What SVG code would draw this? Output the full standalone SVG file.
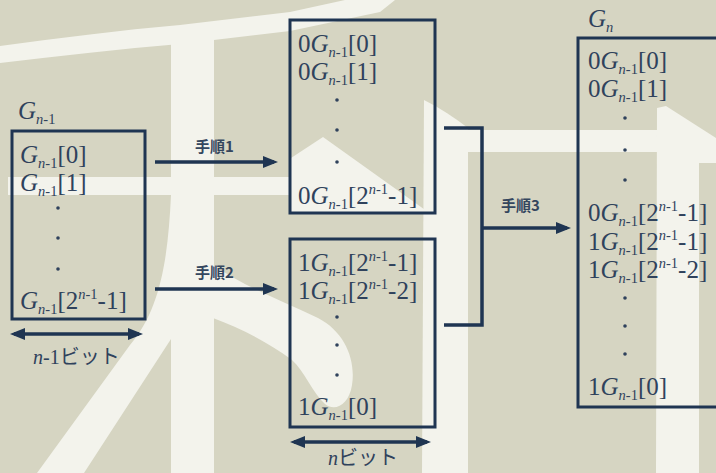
<svg xmlns="http://www.w3.org/2000/svg" width="716" height="473" viewBox="0 0 716 473">
<style>
.t{font-family:"Liberation Serif","DejaVu Serif",serif;font-size:25px;fill:#2f425c}
.i{font-style:italic}
.s{font-size:14.5px}
.k{font-family:"Noto Sans CJK JP",sans-serif;font-size:15px;font-weight:bold;fill:#34465e}
.b{font-family:"Noto Sans CJK JP",sans-serif;font-size:20px;fill:#2f425c}
.box{fill:none;stroke:#1f3552;stroke-width:3}
.ln{fill:none;stroke:#1f3552;stroke-width:3.5}
.w{fill:#f3f3ec}
.d{fill:#2f425c}
</style>
<defs>
<marker id="ah" markerUnits="userSpaceOnUse" markerWidth="16" markerHeight="12" refX="11" refY="6" orient="auto-start-reverse">
<path d="M0,0 L15,6 L0,12 Z" fill="#1f3552"/>
</marker>
</defs>
<rect width="716" height="473" fill="#d6d5c2"/>
<g id="background">
<path class="w" d="M0,46 C60,38 120,30 180,25 L290,12 L345,0 L395,0 L380,12 L290,31 L180,44 C120,49 60,56 0,63 Z"/>
<rect class="w" x="171" y="38" width="43" height="435"/>
<path class="w" d="M171,195 C168,260 160,310 130,345 L37,473 L84,473 L171,339 Z"/>
<rect class="w" x="8" y="177" width="283" height="18"/>
<path class="w" d="M213,265 C245,287 280,300 318,318 C345,332 356,360 352,385 C349,405 335,412 325,404 C312,392 305,372 292,360 C268,342 240,328 213,318 Z"/>
<path class="w" d="M291,158 L323,137 L428,212 L291,212 Z"/>
<path class="w" d="M424,100 C440,108 455,118 468,128 L468,473 L422,473 Z"/>
<rect class="w" x="466" y="130" width="195" height="22"/>
<path class="w" d="M657,108 L666,106 L716,138 L716,163 L699,163 L699,473 L656,473 Z"/>
</g>
<g id="connectors">
<line class="ln" x1="155" y1="162" x2="274" y2="162" marker-end="url(#ah)"/>
<line class="ln" x1="155" y1="289" x2="274" y2="289" marker-end="url(#ah)"/>
<polyline class="ln" points="444,128 482,128 482,325 444,325"/>
<line class="ln" x1="482" y1="228" x2="567" y2="228" marker-end="url(#ah)"/>
<line class="ln" x1="14" y1="334" x2="139" y2="334" marker-start="url(#ah)" marker-end="url(#ah)"/>
<line class="ln" x1="294" y1="442" x2="427" y2="442" marker-start="url(#ah)" marker-end="url(#ah)"/>
<text class="k" x="195" y="152">手順1</text>
<text class="k" x="195" y="278">手順2</text>
<text class="k" x="501" y="211">手順3</text>
</g>
<g id="node-g-n-1">
<text class="t" x="18" y="119"><tspan class="i">G</tspan><tspan class="s i" dy="5">n</tspan><tspan class="s">-1</tspan></text>
<rect class="box" x="12" y="131" width="133" height="188"/>
<text class="t" x="20" y="163"><tspan class="i">G</tspan><tspan class="s" dy="5"><tspan class="i">n</tspan>-1</tspan><tspan dy="-5">[0]</tspan></text>
<text class="t" x="20" y="191"><tspan class="i">G</tspan><tspan class="s" dy="5"><tspan class="i">n</tspan>-1</tspan><tspan dy="-5">[1]</tspan></text>
<circle class="d" cx="58" cy="208" r="1.8"/>
<circle class="d" cx="58" cy="238" r="1.8"/>
<circle class="d" cx="58" cy="269" r="1.8"/>
<text class="t" x="20" y="309"><tspan class="i">G</tspan><tspan class="s" dy="5"><tspan class="i">n</tspan>-1</tspan><tspan dy="-5">[2</tspan><tspan class="s" dy="-10"><tspan class="i">n</tspan>-1</tspan><tspan dy="10">-1]</tspan></text>
<text class="b" x="33" y="364"><tspan class="i" font-family="Liberation Serif,serif">n</tspan><tspan font-family="Liberation Serif,serif">-1</tspan>ビット</text>
</g>
<g id="node-top">
<rect class="box" x="290" y="20" width="145" height="193"/>
<text class="t" x="298" y="52">0<tspan class="i">G</tspan><tspan class="s" dy="5"><tspan class="i">n</tspan>-1</tspan><tspan dy="-5">[0]</tspan></text>
<text class="t" x="298" y="80">0<tspan class="i">G</tspan><tspan class="s" dy="5"><tspan class="i">n</tspan>-1</tspan><tspan dy="-5">[1]</tspan></text>
<circle class="d" cx="337" cy="100" r="1.8"/>
<circle class="d" cx="337" cy="130" r="1.8"/>
<circle class="d" cx="337" cy="162" r="1.8"/>
<text class="t" x="298" y="204">0<tspan class="i">G</tspan><tspan class="s" dy="5"><tspan class="i">n</tspan>-1</tspan><tspan dy="-5">[2</tspan><tspan class="s" dy="-10"><tspan class="i">n</tspan>-1</tspan><tspan dy="10">-1]</tspan></text>
</g>
<g id="node-bottom">
<rect class="box" x="290" y="239" width="145" height="188"/>
<text class="t" x="298" y="271">1<tspan class="i">G</tspan><tspan class="s" dy="5"><tspan class="i">n</tspan>-1</tspan><tspan dy="-5">[2</tspan><tspan class="s" dy="-10"><tspan class="i">n</tspan>-1</tspan><tspan dy="10">-1]</tspan></text>
<text class="t" x="298" y="299">1<tspan class="i">G</tspan><tspan class="s" dy="5"><tspan class="i">n</tspan>-1</tspan><tspan dy="-5">[2</tspan><tspan class="s" dy="-10"><tspan class="i">n</tspan>-1</tspan><tspan dy="10">-2]</tspan></text>
<circle class="d" cx="337" cy="317" r="1.8"/>
<circle class="d" cx="337" cy="345" r="1.8"/>
<circle class="d" cx="337" cy="375" r="1.8"/>
<text class="t" x="298" y="415">1<tspan class="i">G</tspan><tspan class="s" dy="5"><tspan class="i">n</tspan>-1</tspan><tspan dy="-5">[0]</tspan></text>
<text class="b" x="328" y="465" font-size="19"><tspan class="i" font-family="Liberation Serif,serif">n</tspan>ビット</text>
</g>
<g id="node-g-n">
<text class="t" x="588" y="27"><tspan class="i">G</tspan><tspan class="s i" dy="5">n</tspan></text>
<rect class="box" x="578" y="38" width="150" height="369"/>
<text class="t" x="588" y="69">0<tspan class="i">G</tspan><tspan class="s" dy="5"><tspan class="i">n</tspan>-1</tspan><tspan dy="-5">[0]</tspan></text>
<text class="t" x="588" y="97">0<tspan class="i">G</tspan><tspan class="s" dy="5"><tspan class="i">n</tspan>-1</tspan><tspan dy="-5">[1]</tspan></text>
<circle class="d" cx="625" cy="118" r="1.8"/>
<circle class="d" cx="625" cy="150" r="1.8"/>
<circle class="d" cx="625" cy="180" r="1.8"/>
<text class="t" x="588" y="221">0<tspan class="i">G</tspan><tspan class="s" dy="5"><tspan class="i">n</tspan>-1</tspan><tspan dy="-5">[2</tspan><tspan class="s" dy="-10"><tspan class="i">n</tspan>-1</tspan><tspan dy="10">-1]</tspan></text>
<text class="t" x="588" y="250">1<tspan class="i">G</tspan><tspan class="s" dy="5"><tspan class="i">n</tspan>-1</tspan><tspan dy="-5">[2</tspan><tspan class="s" dy="-10"><tspan class="i">n</tspan>-1</tspan><tspan dy="10">-1]</tspan></text>
<text class="t" x="588" y="278">1<tspan class="i">G</tspan><tspan class="s" dy="5"><tspan class="i">n</tspan>-1</tspan><tspan dy="-5">[2</tspan><tspan class="s" dy="-10"><tspan class="i">n</tspan>-1</tspan><tspan dy="10">-2]</tspan></text>
<circle class="d" cx="625" cy="298" r="1.8"/>
<circle class="d" cx="625" cy="326" r="1.8"/>
<circle class="d" cx="625" cy="354" r="1.8"/>
<text class="t" x="588" y="395">1<tspan class="i">G</tspan><tspan class="s" dy="5"><tspan class="i">n</tspan>-1</tspan><tspan dy="-5">[0]</tspan></text>
</g>
</svg>
